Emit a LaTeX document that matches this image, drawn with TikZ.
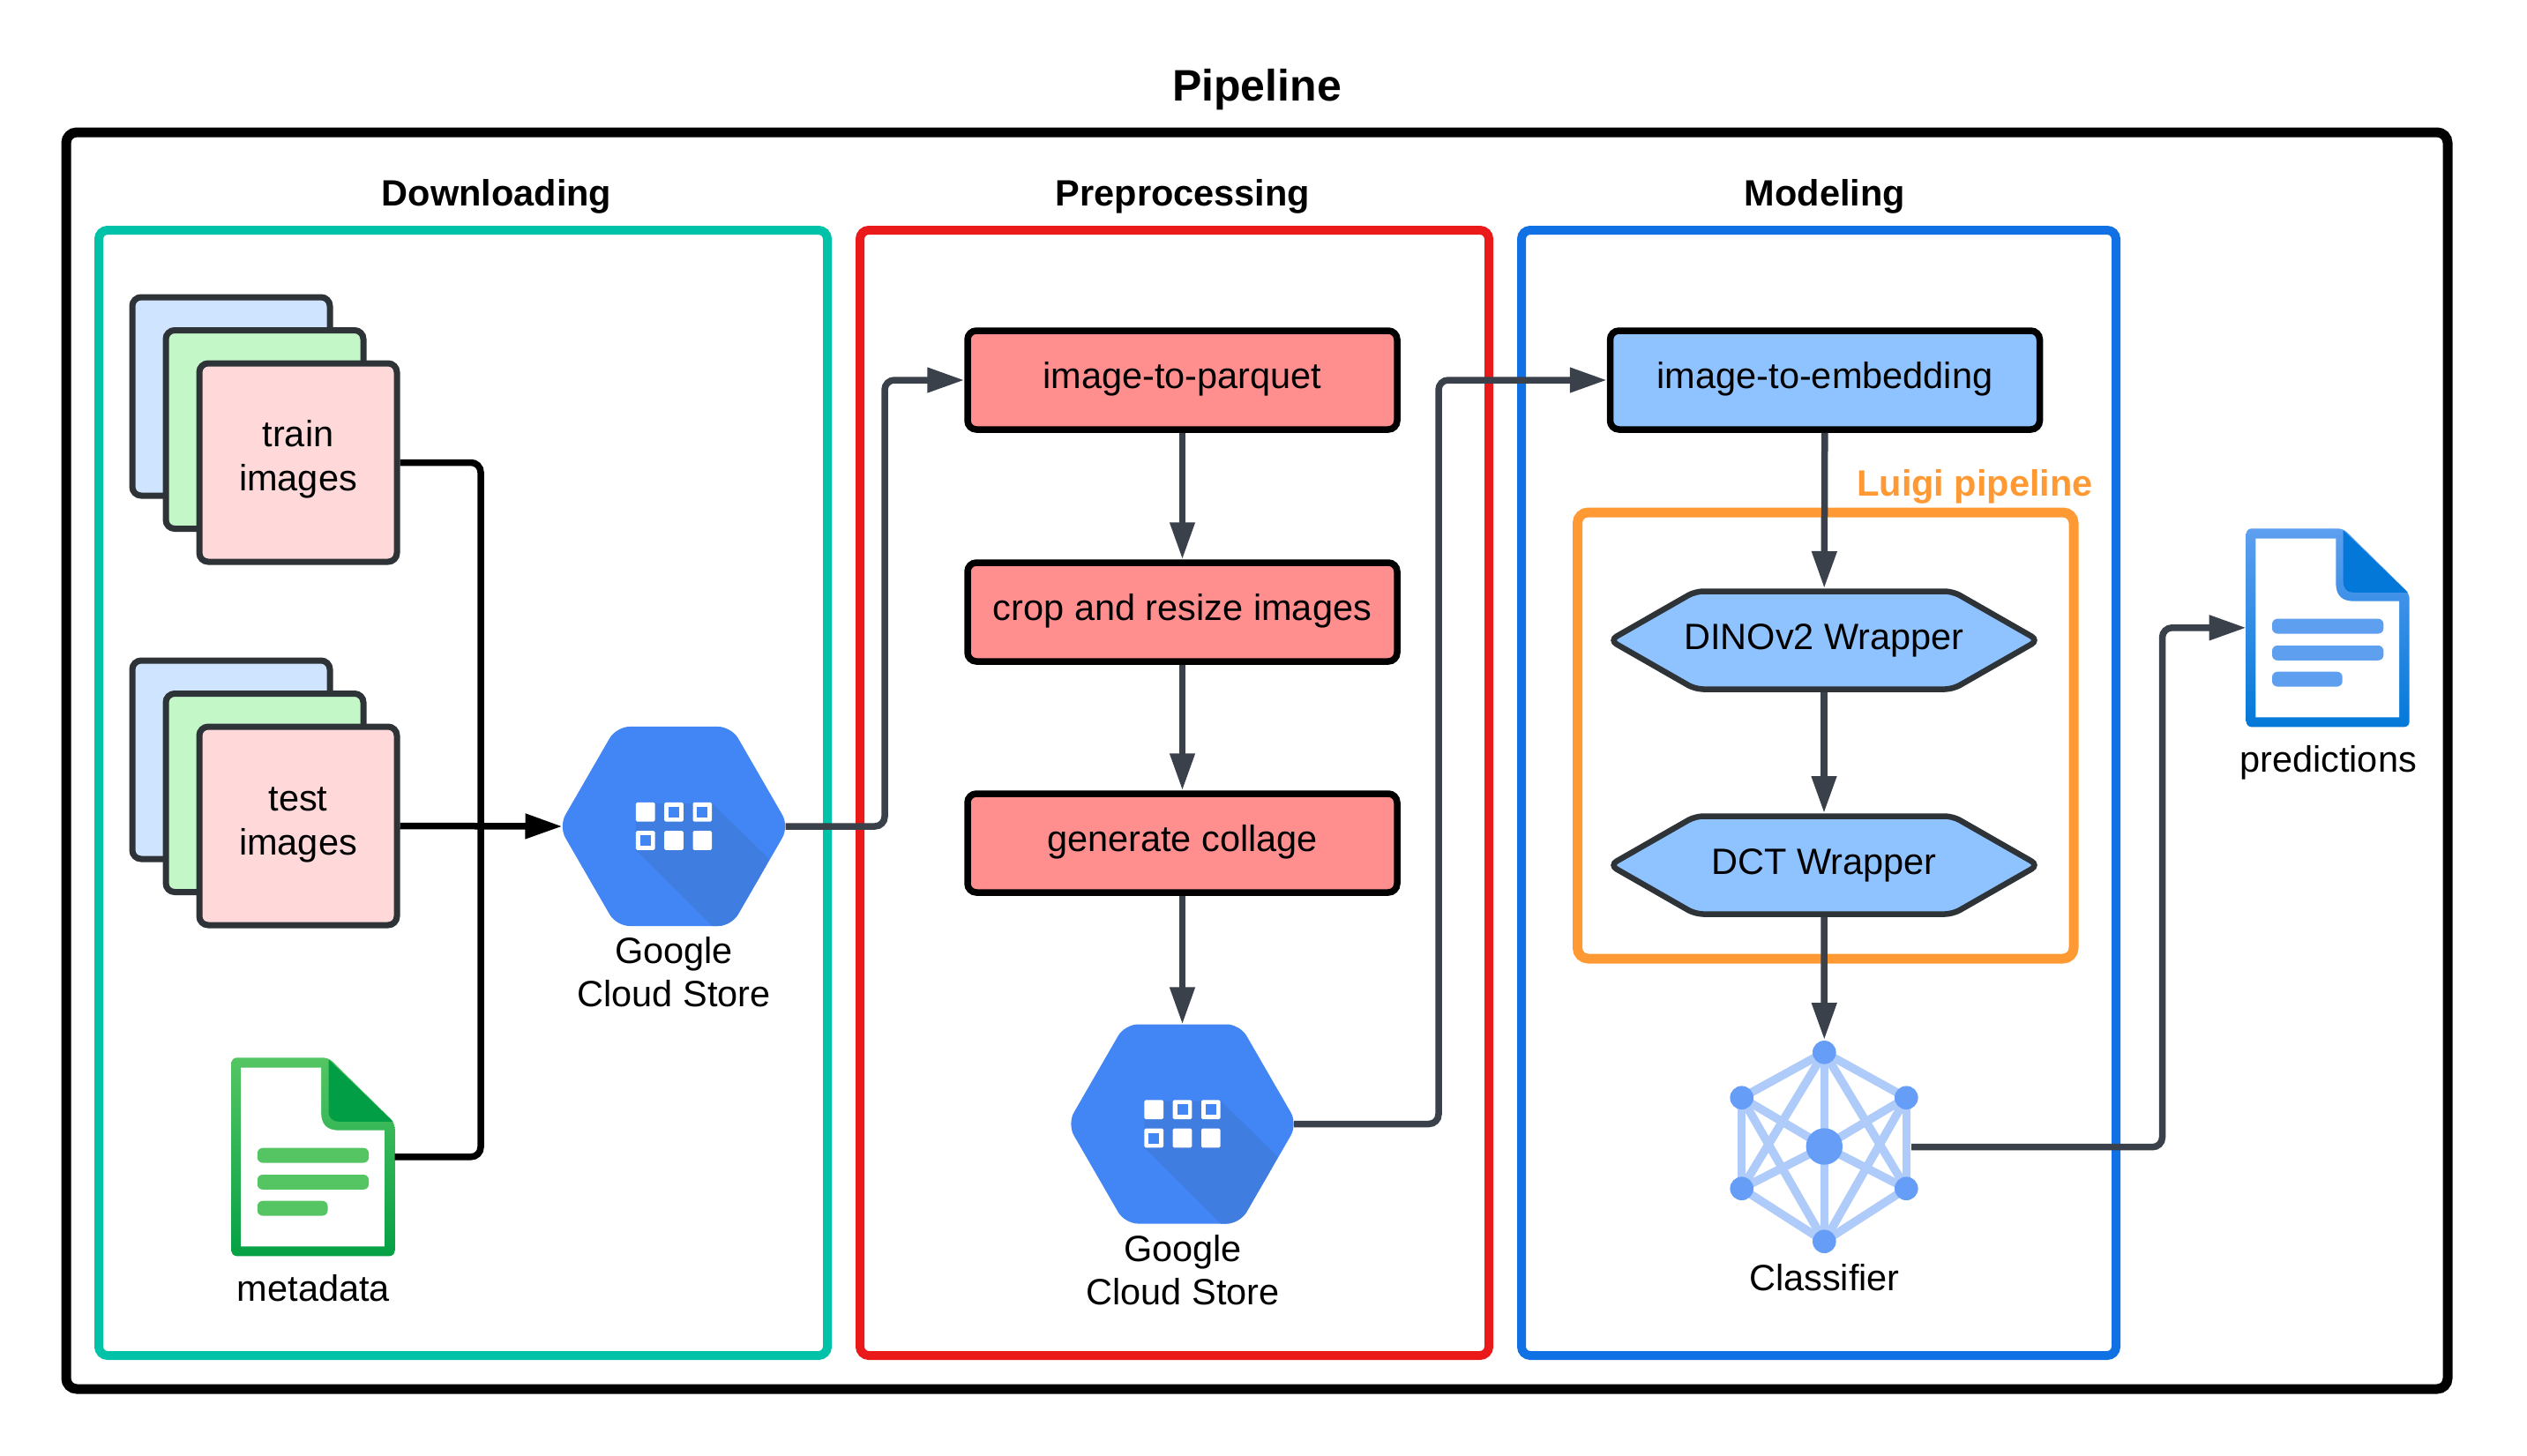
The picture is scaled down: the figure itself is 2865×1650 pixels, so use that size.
\documentclass[tikz,border=0pt]{standalone}
\usepackage{fontspec}
\setmainfont{Liberation Sans}
\usepackage{tikz}
\usetikzlibrary{arrows.meta,shapes.geometric}
\definecolor{tealc}{HTML}{00C2A8}
\definecolor{redc}{HTML}{EA1A1A}
\definecolor{bluec}{HTML}{1071E5}
\definecolor{orangec}{HTML}{FF9933}
\definecolor{inkc}{HTML}{2E3338}
\definecolor{wirec}{HTML}{3A414A}
\definecolor{gcsc}{HTML}{4285F4}
\definecolor{gcsdark}{HTML}{3F7DE0}
\definecolor{cardblue}{HTML}{CFE4FF}
\definecolor{cardgreen}{HTML}{C3F7C8}
\definecolor{cardpink}{HTML}{FFD9D9}
\definecolor{blockred}{HTML}{FF8F8F}
\definecolor{blockblue}{HTML}{8FC3FF}
\definecolor{clflight}{HTML}{AECBFA}
\definecolor{clfdark}{HTML}{669DF6}
\definecolor{metatop}{HTML}{55C563}
\definecolor{metabot}{HTML}{05A045}
\definecolor{metafold}{HTML}{029E45}
\definecolor{predtop}{HTML}{5E9FF0}
\definecolor{predbot}{HTML}{0378D8}
\tikzstyle{panel} = [rectangle, draw, line width=10pt, rounded corners=10pt]
\tikzstyle{head} = [font=\fontsize{41.5pt}{49.6pt}\selectfont\bfseries]
\tikzstyle{plain} = [font=\fontsize{41.5pt}{49.6pt}\selectfont, align=center]
\tikzstyle{card} = [rectangle, draw=inkc, line width=7pt, rounded corners=10pt,
                 minimum width=224pt, minimum height=225pt]
\tikzstyle{block} = [rectangle, draw=black, line width=7.5pt, rounded corners=10pt,
                 minimum width=487pt, minimum height=112pt, text height=31pt, text depth=12pt,
                 font=\fontsize{41.5pt}{49.6pt}\selectfont]
\tikzstyle{wrapline} = [draw=inkc, fill=blockblue, line width=6.5pt, rounded corners=9pt]
\tikzstyle{wrap} = [rectangle, inner sep=0pt, outer sep=0pt,
                 minimum width=482pt, minimum height=118pt, text height=30pt, text depth=10pt,
                 font=\fontsize{41.5pt}{49.6pt}\selectfont]
\tikzstyle{gcshex} = [regular polygon, regular polygon sides=6, fill=gcsc, rounded corners=15pt,
                 minimum size=261pt, inner sep=0pt, outer sep=0pt]
\tikzstyle{docbox} = [rectangle, minimum width=185pt, minimum height=225pt, inner sep=0pt, outer sep=0pt]
\tikzstyle{wire} = [draw=wirec, line width=7.5pt, rounded corners=11pt,
                 -{Triangle[length=42pt,width=27pt]}]
\tikzstyle{feed} = [draw=black, line width=7.5pt, rounded corners=11pt]
\tikzstyle{clflink} = [draw=clflight, line width=9.5pt]
\tikzstyle{clfdot} = [circle, fill=clfdark, minimum size=26.6pt, inner sep=0pt, outer sep=0pt]
\tikzset{
  pics/gcsicon/.style={code={
    \begin{scope}
    \clip[rounded corners=15pt] (-130.5,0) -- (-65,-113) -- (65,-113) -- (130.5,0) -- (65,113) -- (-65,113) -- cycle;
    \fill[gcsdark] (-43,27) -- (43.5,113) -- (70,113) -- (108,37) -- (43.5,-26) -- (-22,-26) -- (-43,-5) -- cycle;
    \end{scope}
    \foreach \x in {-32.3,0,32.3}
      \foreach \y in {-16.3,16}
        \fill[white, rounded corners=1.5pt] (\x-10.8,\y-10.8) rectangle (\x+10.8,\y+10.8);
    \foreach \x/\y in {0/-16.3, 32.3/-16.3, -32.3/16}
      \fill[gcsc] (\x-6,\y-6) rectangle (\x+6,\y+6);
  }},
  pics/docicon/.style n args={4}{code={
    \shade[top color=#1, bottom color=#2, rounded corners=6pt]
      (0,0) -- (110,0) -- (185,74) -- (185,225) -- (0,225) -- cycle;
    \fill[white] (10.6,11.4) -- (101.6,11.4) -- (101.6,62)
      .. controls (101.6,76) and (108,82.4) .. (122,82.4) -- (173.3,82.4) -- (173.3,214) -- (10.6,214) -- cycle;
    \fill[#3] (110,2) -- (183,72.5) -- (122,72.5) .. controls (114,72.5) and (110,68) .. (110,60) -- cycle;
    \foreach \y/\w in {102.4/155.6, 132.7/155.6, 162.4/109}
      \fill[#4, rounded corners=6pt] (29.3,\y) rectangle (\w,\y+16.8);
  }}
}

\begin{document}
\begin{tikzpicture}[x=1pt,y=-1pt]
\useasboundingbox (0,0) rectangle (2865,1650);

\node [head, font=\fontsize{50pt}{60pt}\selectfont\bfseries] at (1425,102) (title) {Pipeline};
\draw [black, line width=11pt, rounded corners=12pt] (75,150) rectangle (2775,1575);

%panels
\node [panel, draw=tealc, minimum width=826pt, minimum height=1276pt] at (525,899) (downloading) {};
\node [panel, draw=redc, minimum width=713pt, minimum height=1276pt] at (1331.5,899) (preprocessing) {};
\node [panel, draw=bluec, minimum width=674pt, minimum height=1276pt] at (2062,899) (modeling) {};
\node [head] at (563,222.5) (downloadinghead) {Downloading};
\node [head] at (1341,222.5) (preprocessinghead) {Preprocessing};
\node [head] at (2069,222.5) (modelinghead) {Modeling};

%image stacks
\foreach \s/\y in {train/449.5, test/861.5}{
	\node [card, fill=cardblue] at (262,\y) (\s a) {};
	\node [card, fill=cardgreen] at (300,\y+37.5) (\s b) {};
	\node [card, fill=cardpink] at (338,\y+75) (\s c) {};
}
\node [plain] at (338,520.5) (traintext) {train\\images};
\node [plain] at (338,935.5) (testtext) {test\\images};

%metadata and predictions
\node [docbox] at (355,1311.8) (meta) {};
\node [plain] at (355.5,1461) (metatext) {metadata};
\path pic at (meta.north west) {docicon={metatop}{metabot}{metafold}{metatop}};
\node [docbox] at (2639.2,711.8) (predict) {};
\node [plain] at (2639.5,865) (predicttext) {predictions};
\path pic at (predict.north west) {docicon={predtop}{predbot}{predbot}{predtop}};

%storage
\node [gcshex] at (764,937) (gcsa) {};
\path pic at (gcsa.center) {gcsicon};
\node [plain] at (764,1102) (gcsatext) {Google\\Cloud Store};
\node [gcshex] at (1340.5,1274.5) (gcsb) {};
\path pic at (gcsb.center) {gcsicon};
\node [plain] at (1341,1440) (gcsbtext) {Google\\Cloud Store};

%steps
\foreach \n/\y/\t in {parquet/431/image-to-parquet, crop/694/crop and resize images, collage/956/generate collage}
	\node [block, fill=blockred, xshift=0.5pt] at (1340,\y) (\n) {\t};
\node [block, fill=blockblue] at (2069,431) (embed) {image-to-embedding};

%luigi
\draw [orangec, line width=11pt, rounded corners=12pt] (1788.5,581) rectangle (2351,1087);
\node [head, text=orangec, anchor=base] at (2239,562) (luigi) {Luigi pipeline};
\foreach \n/\y/\t in {dino/726/DINOv2 Wrapper, dct/981/DCT Wrapper}{
	\draw [wrapline] (1825,\y) -- (1922,\y-55.5) -- (2214,\y-55.5) -- (2311,\y) -- (2214,\y+55.5) -- (1922,\y+55.5) -- cycle;
	\node [wrap] at (2068,\y) (\n) {\t};
}

%classifier
\foreach \n/\x/\y in {t/2068.3/1193.3, ur/2161.3/1244.7, lr/2161.3/1347.7, b/2068.3/1407.7, ll/1974.7/1347.7, ul/1974.7/1244.7, m/2068.3/1300}
	\coordinate (c\n) at (\x,\y);
\foreach \a/\b in {t/ur, ur/lr, lr/b, b/ll, ll/ul, ul/t, m/t, m/ur, m/lr, m/b, m/ll, m/ul, t/ll, t/lr, b/ul, b/ur}
	\draw [clflink] (c\a) -- (c\b);
\foreach \n in {t, ur, lr, b, ll, ul}
	\node [clfdot] at (c\n) (d\n) {};
\node [clfdot, minimum size=41.4pt] at (cm) (dm) {};
\node [plain] at (2068.5,1449) (clftext) {Classifier};

%connectors
\coordinate (joint) at (545,937);
\draw [feed] (trainc.east) -| (joint);
\draw [feed] (meta.east) -| (joint);
\draw [feed, -{Triangle[length=42pt,width=27pt]}, shorten >=-4pt] (testc.east) -- (gcsa.west);

\coordinate (turna) at (1003,431);
\coordinate (turnb) at (1631,431);
\coordinate (clfout) at (2167,1300.7);
\coordinate (turnc) at (2451.5,711.8);
\draw [wire, shorten <=-4pt] (gcsa.east) -| (turna) -- (parquet.west);
\draw [wire, shorten <=-4pt] (gcsb.east) -| (turnb) -- (embed.west);
\draw [wire] (clfout) -| (turnc) -- (predict.west);
\draw [wire] (parquet) -- (crop);
\draw [wire] (crop) -- (collage);
\draw [wire] (collage) -- (gcsb);
\draw [wire] (embed) -- (dino);
\draw [wire] (dino) -- (dct);
\draw [wire, shorten >=1pt] (dct) -- (dt);

\end{tikzpicture}
\end{document}
